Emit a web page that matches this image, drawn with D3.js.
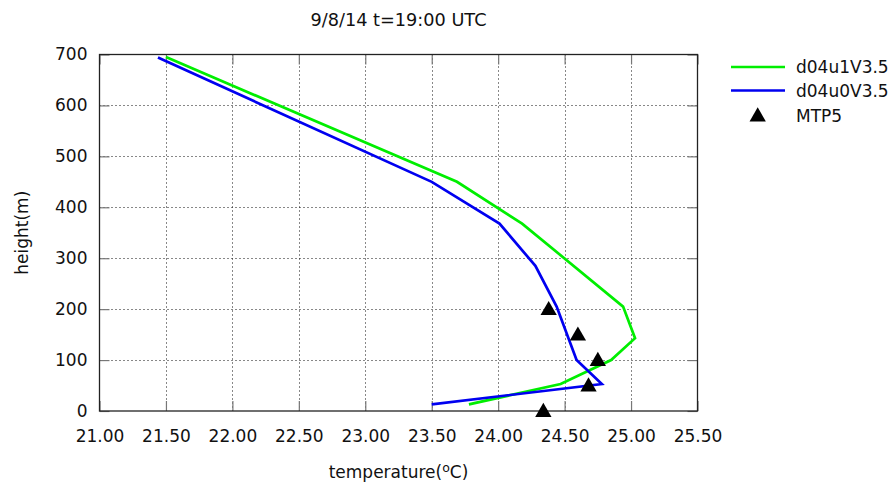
<!DOCTYPE html>
<html>
<head>
<meta charset="utf-8">
<script src="https://cdn.jsdelivr.net/npm/d3@7/dist/d3.min.js"></script>
<style>
  body { margin: 0; background: #fff; }
  svg { display: block; }
  text { font-family: "DejaVu Sans", Verdana, sans-serif; fill: #111; }
</style>
</head>
<body>
<svg id="chart" width="896" height="488"></svg>
<script>
// ---- data ----
const titleText = "9/8/14 t=19:00 UTC";
const xTicks = [21.0, 21.5, 22.0, 22.5, 23.0, 23.5, 24.0, 24.5, 25.0, 25.5];
const yTicks = [0, 100, 200, 300, 400, 500, 600, 700];
const seriesNames = ["d04u1V3.5", "d04u0V3.5", "MTP5"];

// d04u1V3.5 (temperature, height)
const u1Temp   = [21.50, 23.69, 24.18, 24.94, 25.03, 24.85, 24.47, 23.78];
const u1Height = [695,   450,   368,   205,   143,   100,   53,    13];
// d04u0V3.5
const u0Temp   = [21.44, 23.50, 24.01, 24.28, 24.44, 24.59, 24.78, 23.50];
const u0Height = [694,   450,   368,   285,   205,   100,   53,    13];
// MTP5 observations
const obsTemp   = [24.38, 24.60, 24.75, 24.68, 24.34];
const obsHeight = [200,   150,   100,   50,    0];

// ---- layout ----
const svg = d3.select("#chart");
const pLeft = 99.5, pRight = 697.5, pTop = 54.5, pBottom = 411;
const x = d3.scaleLinear().domain([21.0, 25.5]).range([pLeft, pRight]);
const y = d3.scaleLinear().domain([0, 700]).range([pBottom, pTop]);

const fs = 17;

// grid
const grid = svg.append("g");
grid.selectAll(".gx").data(xTicks.slice(1, -1)).join("line")
  .attr("x1", d => Math.round(x(d)) + 0.5).attr("x2", d => Math.round(x(d)) + 0.5)
  .attr("y1", pTop).attr("y2", pBottom)
  .attr("stroke", "#111").attr("stroke-width", 1).attr("stroke-dasharray", "1,3");
grid.selectAll(".gy").data(yTicks.slice(1, -1)).join("line")
  .attr("y1", d => Math.round(y(d)) + 0.5).attr("y2", d => Math.round(y(d)) + 0.5)
  .attr("x1", pLeft).attr("x2", pRight)
  .attr("stroke", "#111").attr("stroke-width", 1).attr("stroke-dasharray", "1,3");

// axes with inner ticks (bottom/left labelled, top/right mirrored)
const tl = 10;
const axB = svg.append("g").attr("transform", `translate(0,${pBottom})`)
  .call(d3.axisBottom(x).tickValues(xTicks).tickSize(-tl).tickFormat(d3.format(".2f")).tickPadding(19));
const axT = svg.append("g").attr("transform", `translate(0,${pTop})`)
  .call(d3.axisTop(x).tickValues(xTicks).tickSize(-tl).tickFormat(""));
const axL = svg.append("g").attr("transform", `translate(${pLeft},0)`)
  .call(d3.axisLeft(y).tickValues(yTicks).tickSize(-tl).tickFormat(d3.format("d")).tickPadding(12));
const axR = svg.append("g").attr("transform", `translate(${pRight},0)`)
  .call(d3.axisRight(y).tickValues(yTicks).tickSize(-tl).tickFormat(""));
[axB, axT, axL, axR].forEach(a => {
  a.select(".domain").remove();
  a.selectAll(".tick line").attr("stroke", "#777").attr("stroke-width", 1.2);
  a.selectAll("text").style("font-size", fs + "px").attr("fill", "#111")
    .style("font-family", '"DejaVu Sans", Verdana, sans-serif');
});

// border
svg.append("rect").attr("x", pLeft).attr("y", pTop)
  .attr("width", pRight - pLeft).attr("height", pBottom - pTop)
  .attr("fill", "none").attr("stroke", "#222").attr("stroke-width", 1.3);

// lines
const line = d3.line().x(d => x(d[0])).y(d => y(d[1]));
const u1 = u1Temp.map((t, i) => [t, u1Height[i]]);
const u0 = u0Temp.map((t, i) => [t, u0Height[i]]);
const colors = ["#00ee00", "#0000f0", "#000"];

svg.append("path").datum(u1).attr("d", line)
  .attr("fill", "none").attr("stroke", colors[0]).attr("stroke-width", 2.7).attr("stroke-linejoin", "miter");
svg.append("path").datum(u0).attr("d", line)
  .attr("fill", "none").attr("stroke", colors[1]).attr("stroke-width", 2.7).attr("stroke-linejoin", "miter");

// triangles
const tri = d3.symbol().type(d3.symbolTriangle).size(115);
svg.selectAll(".obs").data(obsTemp.map((t, i) => [t, obsHeight[i]])).join("path")
  .attr("d", tri)
  .attr("transform", d => `translate(${x(d[0])},${y(d[1]) + 1.2})`)
  .attr("fill", "#000");

// title & labels
svg.append("text").attr("x", (pLeft + pRight) / 2).attr("y", 26)
  .attr("text-anchor", "middle").style("font-size", "17.7px").text(titleText);

const xl = svg.append("text").attr("x", (pLeft + pRight) / 2).attr("y", 478)
  .attr("text-anchor", "middle").style("font-size", fs + "px");
xl.append("tspan").text("temperature(");
xl.append("tspan").attr("dy", -6).style("font-size", "12.5px").text("o");
xl.append("tspan").attr("dy", 6).text("C)");

svg.append("text")
  .attr("transform", `translate(28,${(pTop + pBottom) / 2}) rotate(-90)`)
  .attr("text-anchor", "middle").style("font-size", fs + "px").text("height(m)");

// legend
const lg = svg.append("g");
const legY = [67, 90.5, 115.5];
lg.selectAll(".ll").data([0, 1]).join("line")
  .attr("x1", 731).attr("x2", 785)
  .attr("y1", i => legY[i]).attr("y2", i => legY[i])
  .attr("stroke", i => colors[i]).attr("stroke-width", 2.7);
lg.append("path").attr("d", tri).attr("transform", `translate(757.7,${legY[2] + 1.2})`).attr("fill", "#000");
lg.selectAll(".lt").data(seriesNames).join("text")
  .attr("x", 796).attr("y", (d, i) => legY[i] + 6)
  .style("font-size", fs + "px").text(d => d);
</script>
</body>
</html>
